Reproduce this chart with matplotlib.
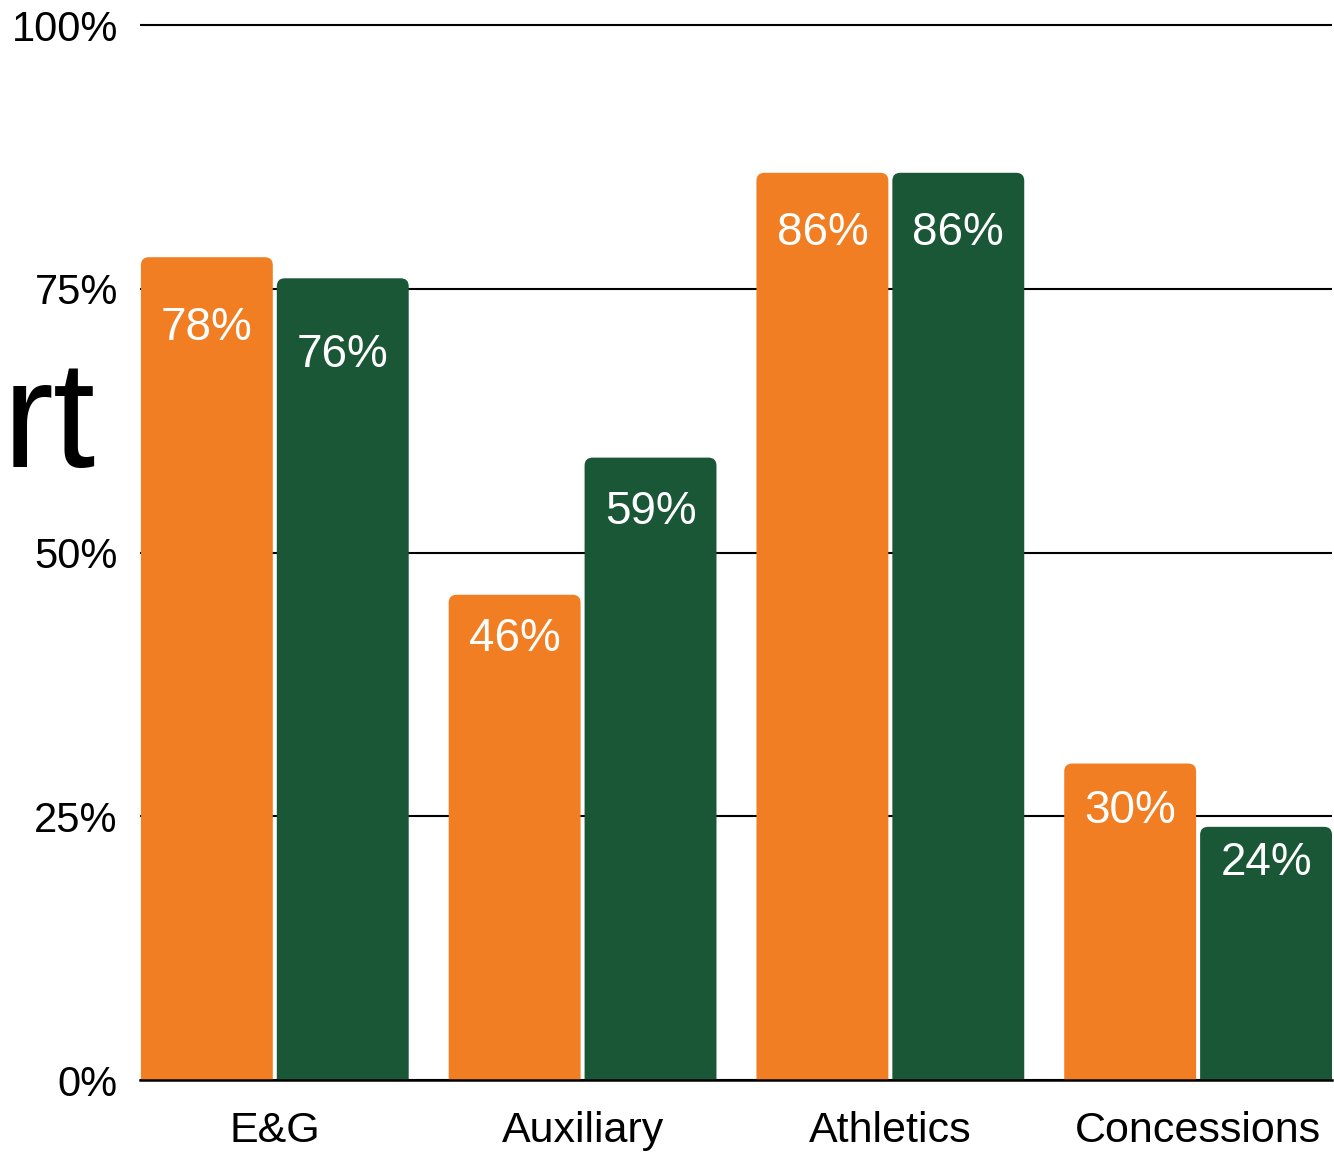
import matplotlib
matplotlib.use("Agg")
import matplotlib.pyplot as plt
from matplotlib.patches import FancyBboxPatch
import numpy as np

plt.rcParams['font.family'] = ['Liberation Sans', 'DejaVu Sans']

categories = ['E&G', 'Auxiliary', 'Athletics', 'Concessions']
series_a = [78, 46, 86, 30]   # orange
series_b = [76, 59, 86, 24]   # green
y_ticks = [0, 25, 50, 75, 100]

ORANGE = '#F17E23'
GREEN = '#1A5736'

# how far each value label sits below its bar top (points)
label_drop_a = [51, 32, 43, 34]
label_drop_b = [55, 39, 43, 26]

fig = plt.figure(figsize=(13.34, 11.53), dpi=100)
ax = fig.add_axes([140 / 1334, 73 / 1153, 1192 / 1334, 1057 / 1153])

x = np.arange(len(categories))
w = 132 / 308
gap = 4 / 308

ymax = 100.2
ax.set_xlim(-0.438, 3.435)
ax.set_ylim(0, ymax)

# aspect ratio between data units per pixel in y and x, for round corners
px_x = (3.435 + 0.438) / 1192
px_y = ymax / 1057
aspect = px_y / px_x


def rounded_bars(xs, vals, color, drops):
    bars = ax.bar(xs, vals, width=w, color=color)
    for rect, v, d in zip(bars, vals, drops):
        rect.set_visible(False)
        x0 = rect.get_x()
        p = FancyBboxPatch((x0, -5), w, v + 5,
                           boxstyle='round,pad=0,rounding_size=0.026',
                           mutation_aspect=aspect,
                           facecolor=color, edgecolor='none', zorder=2)
        ax.add_patch(p)
        ax.annotate(f'{v}%', (x0 + w / 2, v), xytext=(0, -d),
                    textcoords='offset points', ha='center', va='center',
                    color='white', fontsize=33, zorder=4)


rounded_bars(x - (w + gap) / 2, series_a, ORANGE, label_drop_a)
rounded_bars(x + (w + gap) / 2, series_b, GREEN, label_drop_b)

ax.set_yticks(y_ticks)
ax.set_yticklabels([f'{t}%' for t in y_ticks], fontsize=30)
ax.set_xticks(x)
ax.set_xticklabels(categories, fontsize=31)
ax.tick_params(axis='y', length=0, pad=16)
ax.tick_params(axis='x', length=0, pad=22)

ax.grid(axis='y', color='black', linewidth=1.5, zorder=0)
ax.set_axisbelow(True)
for s in ['top', 'right', 'left']:
    ax.spines[s].set_visible(False)
ax.spines['bottom'].set_color('black')
ax.spines['bottom'].set_linewidth(1.8)
ax.spines['bottom'].set_zorder(5)

# tail end of a title running off the left edge
fig.text(96 / 1334, 1 - 467 / 1153, 'rt', fontsize=110, ha='right',
         va='baseline', color='black')

fig.savefig('out.png', dpi=100)
